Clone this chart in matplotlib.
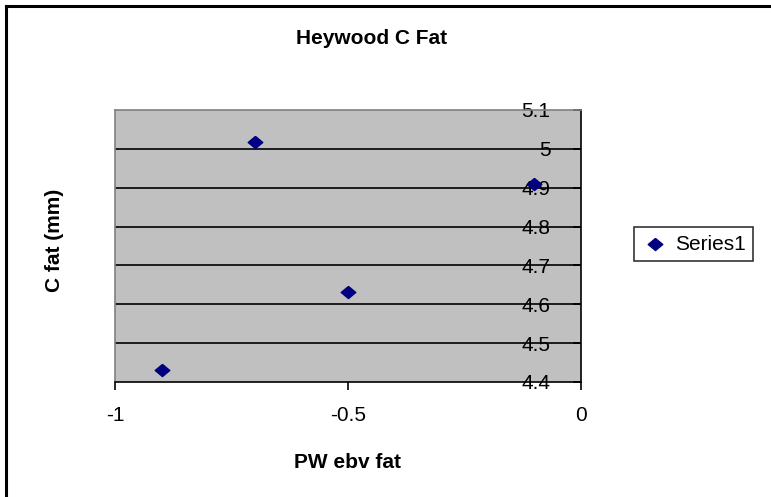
import numpy as np
import matplotlib.pyplot as plt
from matplotlib.lines import Line2D

plt.rcParams['font.family'] = ['Liberation Sans', 'DejaVu Sans']

# data
pw_ebv_fat = [-0.9, -0.7, -0.5, -0.1]
c_fat = [4.431, 5.017, 4.632, 4.91]
x_ticks = [-1, -0.5, 0]
x_labels = ['-1', '-0.5', '0']
y_ticks = [4.4, 4.5, 4.6, 4.7, 4.8, 4.9, 5.0, 5.1]
y_labels = ['4.4', '4.5', '4.6', '4.7', '4.8', '4.9', '5', '5.1']

W, H = 771, 497
fig = plt.figure(figsize=(W / 100, H / 100), dpi=100)

# outer chart border (only top and left visible)
fig.add_artist(Line2D([6 / W, 6 / W], [0, 1 - 6 / H], color='black', lw=2.2, transform=fig.transFigure))
fig.add_artist(Line2D([6 / W, 1], [1 - 6 / H, 1 - 6 / H], color='black', lw=2.2, transform=fig.transFigure))

ax = fig.add_axes([115 / W, 1 - 382 / H, (581 - 115) / W, (382 - 110) / H])
ax.set_facecolor('#C0C0C0')

# slightly wide diamond like the Excel marker
diamond = [(0, 1), (1.2, 0), (0, -1), (-1.2, 0), (0, 1)]
ax.scatter(pw_ebv_fat, c_fat, marker=diamond, s=110, color='#000080', zorder=3, label='Series1')

ax.set_xlim(-1, 0)
ax.set_ylim(4.4, 5.1)
ax.set_xticks(x_ticks)
ax.set_xticklabels(x_labels)
ax.set_yticks(y_ticks)
ax.set_yticklabels(y_labels)

for y in y_ticks[1:-1]:
    ax.axhline(y, color='black', lw=1.2, zorder=1)

ax.spines['top'].set_color('#808080')
ax.spines['left'].set_color('#808080')
ax.spines['bottom'].set_color('black')
ax.spines['right'].set_color('black')
for s in ax.spines.values():
    s.set_linewidth(1.2)

# y axis sits at x = 0 (right edge), labels drawn to its left
ax.yaxis.tick_right()
ax.tick_params(axis='y', direction='in', length=6, width=1.2, pad=-22, labelsize=15)
for lbl in ax.get_yticklabels():
    lbl.set_horizontalalignment('right')
ax.tick_params(axis='x', direction='out', length=6, width=1.2, pad=11, labelsize=15)
ax.tick_params(axis='y', labelright=True, labelleft=False)

fig.text(372 / W, 1 - 38 / H, 'Heywood C Fat', ha='center', va='center', fontsize=15, fontweight='bold')
fig.text(347 / W, 1 - 462 / H, 'PW ebv fat', ha='center', va='center', fontsize=15, fontweight='bold')
fig.text(55 / W, 1 - 240 / H, 'C fat (mm)', ha='center', va='center', rotation=90, fontsize=15, fontweight='bold')

leg = fig.legend(loc='center left', bbox_to_anchor=(634 / W, 1 - 244 / H), fontsize=15,
                 frameon=True, fancybox=False, edgecolor='black', handletextpad=0.3,
                 borderpad=0.35, handlelength=1.3, borderaxespad=0)
leg.get_frame().set_linewidth(1.2)

fig.savefig('out.png', dpi=100)
